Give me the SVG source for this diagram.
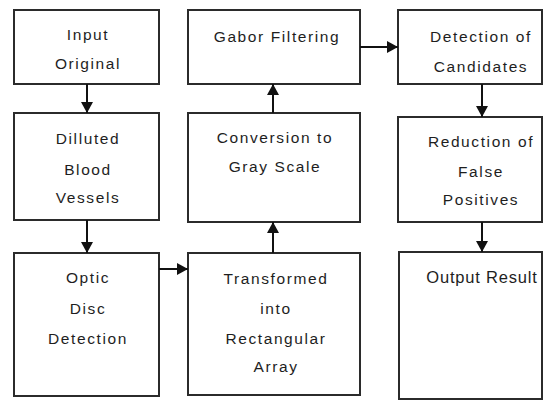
<svg xmlns="http://www.w3.org/2000/svg" width="555" height="401" viewBox="0 0 555 401">
<style>
.box{fill:#fff;stroke:#2b2b2b;stroke-width:2}
.t{font-family:"Liberation Sans",Arial,sans-serif;font-size:15.5px;fill:#1e1e1e;text-anchor:middle;letter-spacing:1.6px}
.c{stroke:#111;stroke-width:2;fill:none;marker-end:url(#ah)}
</style>
<defs>
<marker id="ah" markerUnits="userSpaceOnUse" markerWidth="12" markerHeight="12" refX="11" refY="6" orient="auto">
<path d="M0,0 L11,6 L0,12 z" fill="#111"/>
</marker>
</defs>
<rect width="555" height="401" fill="#fff"/>
<g id="n1"><rect class="box" x="14" y="10" width="145" height="74"/><text class="t" x="88" y="40">Input</text><text class="t" x="88" y="69">Original</text></g>
<g id="n2"><rect class="box" x="14" y="113" width="145" height="107"/><text class="t" x="88" y="144">Dilluted</text><text class="t" x="88" y="175">Blood</text><text class="t" x="88" y="203">Vessels</text></g>
<g id="n3"><rect class="box" x="14" y="253" width="145" height="143"/><text class="t" x="88" y="283">Optic</text><text class="t" x="88" y="314">Disc</text><text class="t" x="88" y="344">Detection</text></g>
<g id="n4"><rect class="box" x="188" y="253" width="172" height="142"/><text class="t" x="276" y="284">Transformed</text><text class="t" x="276" y="314">into</text><text class="t" x="276" y="344">Rectangular</text><text class="t" x="276" y="372">Array</text></g>
<g id="n5"><rect class="box" x="188" y="113" width="172" height="109"/><text class="t" x="275" y="143">Conversion to</text><text class="t" x="275" y="172">Gray Scale</text></g>
<g id="n6"><rect class="box" x="188" y="10" width="172" height="74"/><text class="t" x="277" y="42">Gabor Filtering</text></g>
<g id="n7"><rect class="box" x="398" y="10" width="144" height="74"/><text class="t" x="481" y="42">Detection of</text><text class="t" x="481" y="72">Candidates</text></g>
<g id="n8"><rect class="box" x="398" y="117" width="144" height="105"/><text class="t" x="481" y="147">Reduction of</text><text class="t" x="481" y="177">False</text><text class="t" x="481" y="205">Positives</text></g>
<g id="n9"><rect class="box" x="399" y="252" width="143" height="147"/><text class="t" x="482" y="283" style="letter-spacing:0.8px;font-size:16.5px">Output Result</text></g>
<g id="connectors">
<line class="c" x1="87" y1="84" x2="87" y2="113"/>
<line class="c" x1="87" y1="220" x2="87" y2="253"/>
<line class="c" x1="159" y1="269" x2="188" y2="269"/>
<line class="c" x1="273" y1="253" x2="273" y2="222"/>
<line class="c" x1="273" y1="113" x2="273" y2="84"/>
<line class="c" x1="360" y1="47" x2="398" y2="47"/>
<line class="c" x1="482" y1="84" x2="482" y2="117"/>
<line class="c" x1="482" y1="222" x2="482" y2="252"/>
</g>
</svg>
